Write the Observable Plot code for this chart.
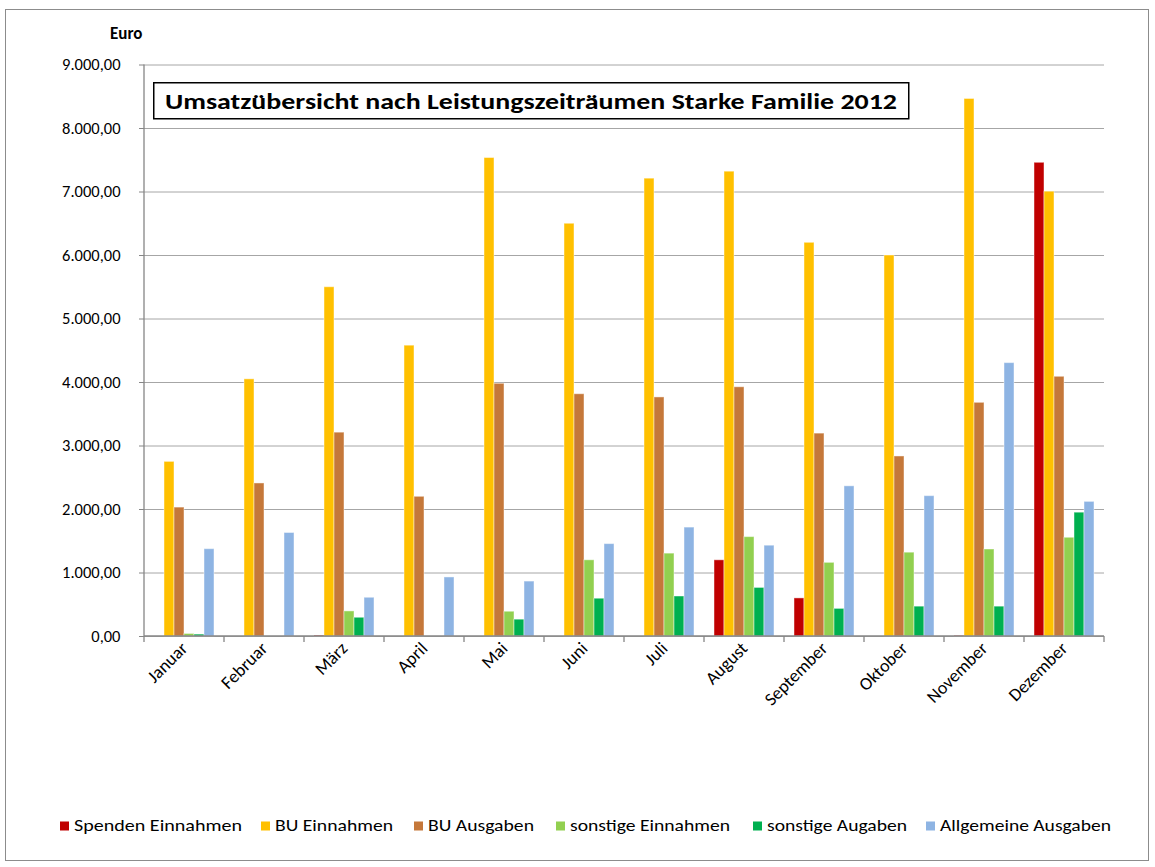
<!DOCTYPE html>
<html>
<head>
<meta charset="utf-8">
<script src="https://cdn.jsdelivr.net/npm/d3@7"></script>
<script src="https://cdn.jsdelivr.net/npm/@observablehq/plot@0.6"></script>
<style>
  html, body { margin: 0; padding: 0; background: #fff; }
  #wrap { position: relative; width: 1155px; height: 867px; overflow: hidden; font-family: Carlito, Calibri, Lato, sans-serif; }
  #border { position: absolute; left: 5px; top: 9px; width: 1144px; height: 852px; border: 1px solid #8c8c8c; box-sizing: border-box; pointer-events: none; }
  #chart { position: absolute; left: 0; top: 0; }
  #euro { position: absolute; left: 110px; top: 23px; font-weight: bold; font-size: 17px; color: #000; }
  #title { position: absolute; left: 153px; top: 82px; }
  #legend { position: absolute; left: 0; top: 812px; width: 1155px; }
</style>
</head>
<body>
<div id="wrap">
  <div id="chart"></div>
  <div id="euro">Euro</div>
  <svg id="title" width="757" height="38"></svg>
  <svg id="legend" width="1155" height="30"></svg>
  <div id="border"></div>
</div>
<script>
const months = ["Januar","Februar","März","April","Mai","Juni","Juli","August","September","Oktober","November","Dezember"];
const seriesNames = ["Spenden Einnahmen","BU Einnahmen","BU Ausgaben","sonstige Einnahmen","sonstige Augaben","Allgemeine Ausgaben"];
const seriesColors = ["#C00000","#FFC000","#C5783A","#92D050","#00B050","#8EB4E3"];

const spendenEinnahmen   = [0, 0, 15, 0, 0, 0, 0, 1200, 600, 0, 10, 7460];
const buEinnahmen        = [2750, 4050, 5500, 4580, 7535, 6500, 7210, 7320, 6200, 6000, 8465, 7005];
const buAusgaben         = [2030, 2410, 3210, 2200, 3980, 3815, 3765, 3925, 3195, 2835, 3680, 4090];
const sonstigeEinnahmen  = [40, 0, 395, 0, 390, 1200, 1305, 1565, 1160, 1320, 1370, 1555];
const sonstigeAusgaben   = [30, 0, 295, 0, 265, 595, 630, 765, 435, 470, 470, 1950];
const allgemeineAusgaben = [1375, 1630, 610, 930, 865, 1455, 1715, 1430, 2365, 2210, 4305, 2120];

const yTicks = [0, 1000, 2000, 3000, 4000, 5000, 6000, 7000, 8000, 9000];
const titleText = "Umsatzübersicht nach Leistungszeiträumen Starke Familie 2012";

const valueArrays = [spendenEinnahmen, buEinnahmen, buAusgaben, sonstigeEinnahmen, sonstigeAusgaben, allgemeineAusgaben];
const data = [];
months.forEach((m, i) => {
  seriesNames.forEach((s, j) => {
    data.push({month: m, series: s, value: valueArrays[j][i]});
  });
});

const de = d3.formatLocale({decimal: ",", thousands: ".", grouping: [3], currency: ["", " €"]});
const fmt = de.format(",.2f");

const FONT = "Carlito, Calibri, Lato, sans-serif";

const chart = Plot.plot({
  width: 1155,
  height: 867,
  marginLeft: 141,
  marginRight: 49,
  marginTop: 64.5,
  marginBottom: 231,
  style: {fontFamily: FONT, fontSize: "16px", color: "#000", background: "transparent"},
  fx: {domain: months, padding: 0, label: null},
  x: {domain: seriesNames, paddingInner: 0, paddingOuter: 0.76, axis: null},
  y: {domain: [0, 9000], label: null},
  color: {domain: seriesNames, range: seriesColors},
  marks: [
    Plot.gridY(yTicks, {stroke: "#a6a6a6", strokeOpacity: 1, strokeWidth: 1}),
    Plot.barY(data, {fx: "month", x: "series", y: "value", fill: "series",
      stroke: "#ffffff", strokeOpacity: 0.45, strokeWidth: 1}),
    Plot.axisY(yTicks, {tickFormat: fmt, tickSize: 5, tickPadding: 19, stroke: "#868686",
      fontSize: 16.5, label: null}),
    Plot.axisFx({anchor: "bottom", tickRotate: -45, tickSize: 0, tickPadding: 9, fontSize: 18, label: null, textAnchor: "end"})
  ]
});
document.getElementById("chart").appendChild(chart);

// axis lines and category boundary ticks, positioned through the chart's own scales
const fx = chart.scale("fx");
const y = chart.scale("y");
const svg = d3.select(chart);
const g = svg.append("g").attr("stroke", "#868686").attr("stroke-width", 1.3);
const x0 = fx.apply(months[0]);
const x1 = fx.apply(months[months.length - 1]) + fx.bandwidth;
const y0 = y.apply(0);
g.append("line").attr("x1", x0).attr("x2", x0).attr("y1", y.apply(9000)).attr("y2", y0);
g.append("line").attr("x1", x0).attr("x2", x1).attr("y1", y0).attr("y2", y0);
const bounds = months.map(m => fx.apply(m)).concat([x1]);
bounds.forEach(b => {
  g.append("line").attr("x1", b).attr("x2", b).attr("y1", y0).attr("y2", y0 + 6);
});

// title box
const t = d3.select("#title");
t.append("rect").attr("x", 0.75).attr("y", 0.75).attr("width", 755).attr("height", 36)
  .attr("fill", "#fff").attr("stroke", "#000").attr("stroke-width", 1.5);
t.append("text").attr("x", 12).attr("y", 27).attr("font-family", FONT).attr("font-weight", "bold")
  .attr("font-size", 23).attr("textLength", 732).attr("lengthAdjust", "spacingAndGlyphs").text(titleText);

// legend
const legendX = [60, 261, 414, 556, 753, 926];
const legendW = [168, 118, 106, 160, 140, 171];
const lg = d3.select("#legend");
seriesNames.forEach((s, i) => {
  lg.append("rect").attr("x", legendX[i]).attr("y", 9.5).attr("width", 9).attr("height", 9).attr("fill", seriesColors[i]);
  lg.append("text").attr("x", legendX[i] + 14).attr("y", 18.5).attr("font-family", FONT).attr("font-size", 17)
    .attr("textLength", legendW[i]).attr("lengthAdjust", "spacingAndGlyphs").text(s);
});
</script>
</body>
</html>
